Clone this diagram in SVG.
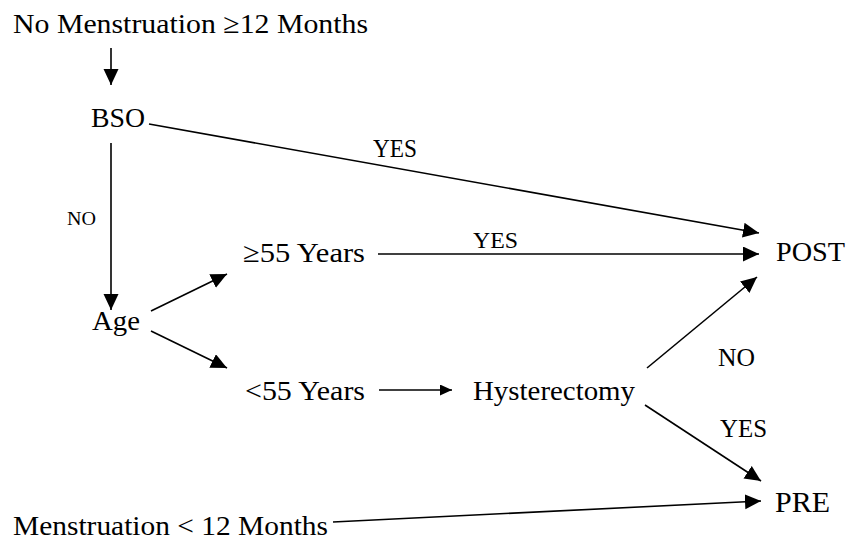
<svg xmlns="http://www.w3.org/2000/svg" width="847" height="541" viewBox="0 0 847 541">
<defs>
<style>
.c line{stroke:#000;stroke-width:1.6;fill:none;}
.big{marker-end:url(#ah);}
.sm{marker-end:url(#ahs);}
</style>
<marker id="ah" markerUnits="userSpaceOnUse" markerWidth="17" markerHeight="16" refX="16" refY="7.5" orient="auto">
<path d="M0,0 L16,7.5 L0,15 z" fill="#000"/>
</marker>
<marker id="ahs" markerUnits="userSpaceOnUse" markerWidth="13" markerHeight="12" refX="12" refY="5.5" orient="auto">
<path d="M0,0 L12,5.5 L0,11 z" fill="#000"/>
</marker>
</defs>
<rect width="847" height="541" fill="#fff"/>
<g id="connectors" class="c">
<line class="big" x1="111" y1="48" x2="111" y2="85"/>
<line class="big" x1="149" y1="124" x2="759" y2="233"/>
<line class="big" x1="111" y1="143" x2="111" y2="310"/>
<line class="big" x1="151" y1="311" x2="227" y2="274"/>
<line class="big" x1="151" y1="331" x2="227" y2="368"/>
<line class="big" x1="378" y1="254" x2="759" y2="254"/>
<line class="sm" x1="379" y1="390" x2="452" y2="390"/>
<line class="big" x1="647" y1="368" x2="757" y2="277"/>
<line class="big" x1="645" y1="405" x2="761" y2="481"/>
<line class="big" x1="333" y1="522" x2="761" y2="501"/>
<g id="edge-labels" font-family="Liberation Serif" fill="#000">
<text x="373" y="157" font-size="25" textLength="44" lengthAdjust="spacingAndGlyphs">YES</text>
<text x="67" y="225" font-size="19" textLength="29" lengthAdjust="spacingAndGlyphs">NO</text>
<text x="473" y="248" font-size="24" textLength="45" lengthAdjust="spacingAndGlyphs">YES</text>
<text x="718" y="366" font-size="25" textLength="37" lengthAdjust="spacingAndGlyphs">NO</text>
<text x="720" y="437" font-size="25" textLength="47" lengthAdjust="spacingAndGlyphs">YES</text>
</g>
</g>
<g font-family="Liberation Serif" fill="#000">
<g id="start-no-menstruation"><text x="13" y="33" font-size="28" textLength="355" lengthAdjust="spacingAndGlyphs">No Menstruation ≥12 Months</text></g>
<g id="bso"><text x="91" y="127" font-size="28" textLength="54" lengthAdjust="spacingAndGlyphs">BSO</text></g>
<g id="age"><text x="92" y="330" font-size="28" textLength="48" lengthAdjust="spacingAndGlyphs">Age</text></g>
<g id="ge55"><text x="243" y="262" font-size="28" textLength="122" lengthAdjust="spacingAndGlyphs">≥55 Years</text></g>
<g id="lt55"><text x="245" y="400" font-size="28" textLength="120" lengthAdjust="spacingAndGlyphs">&lt;55 Years</text></g>
<g id="hysterectomy"><text x="473" y="400" font-size="28" textLength="162" lengthAdjust="spacingAndGlyphs">Hysterectomy</text></g>
<g id="post"><text x="776" y="261" font-size="28" textLength="69" lengthAdjust="spacingAndGlyphs">POST</text></g>
<g id="pre"><text x="775" y="512" font-size="29" textLength="55" lengthAdjust="spacingAndGlyphs">PRE</text></g>
<g id="start-menstruation"><text x="13" y="535" font-size="28" textLength="315" lengthAdjust="spacingAndGlyphs">Menstruation &lt; 12 Months</text></g>
</g>
</svg>
